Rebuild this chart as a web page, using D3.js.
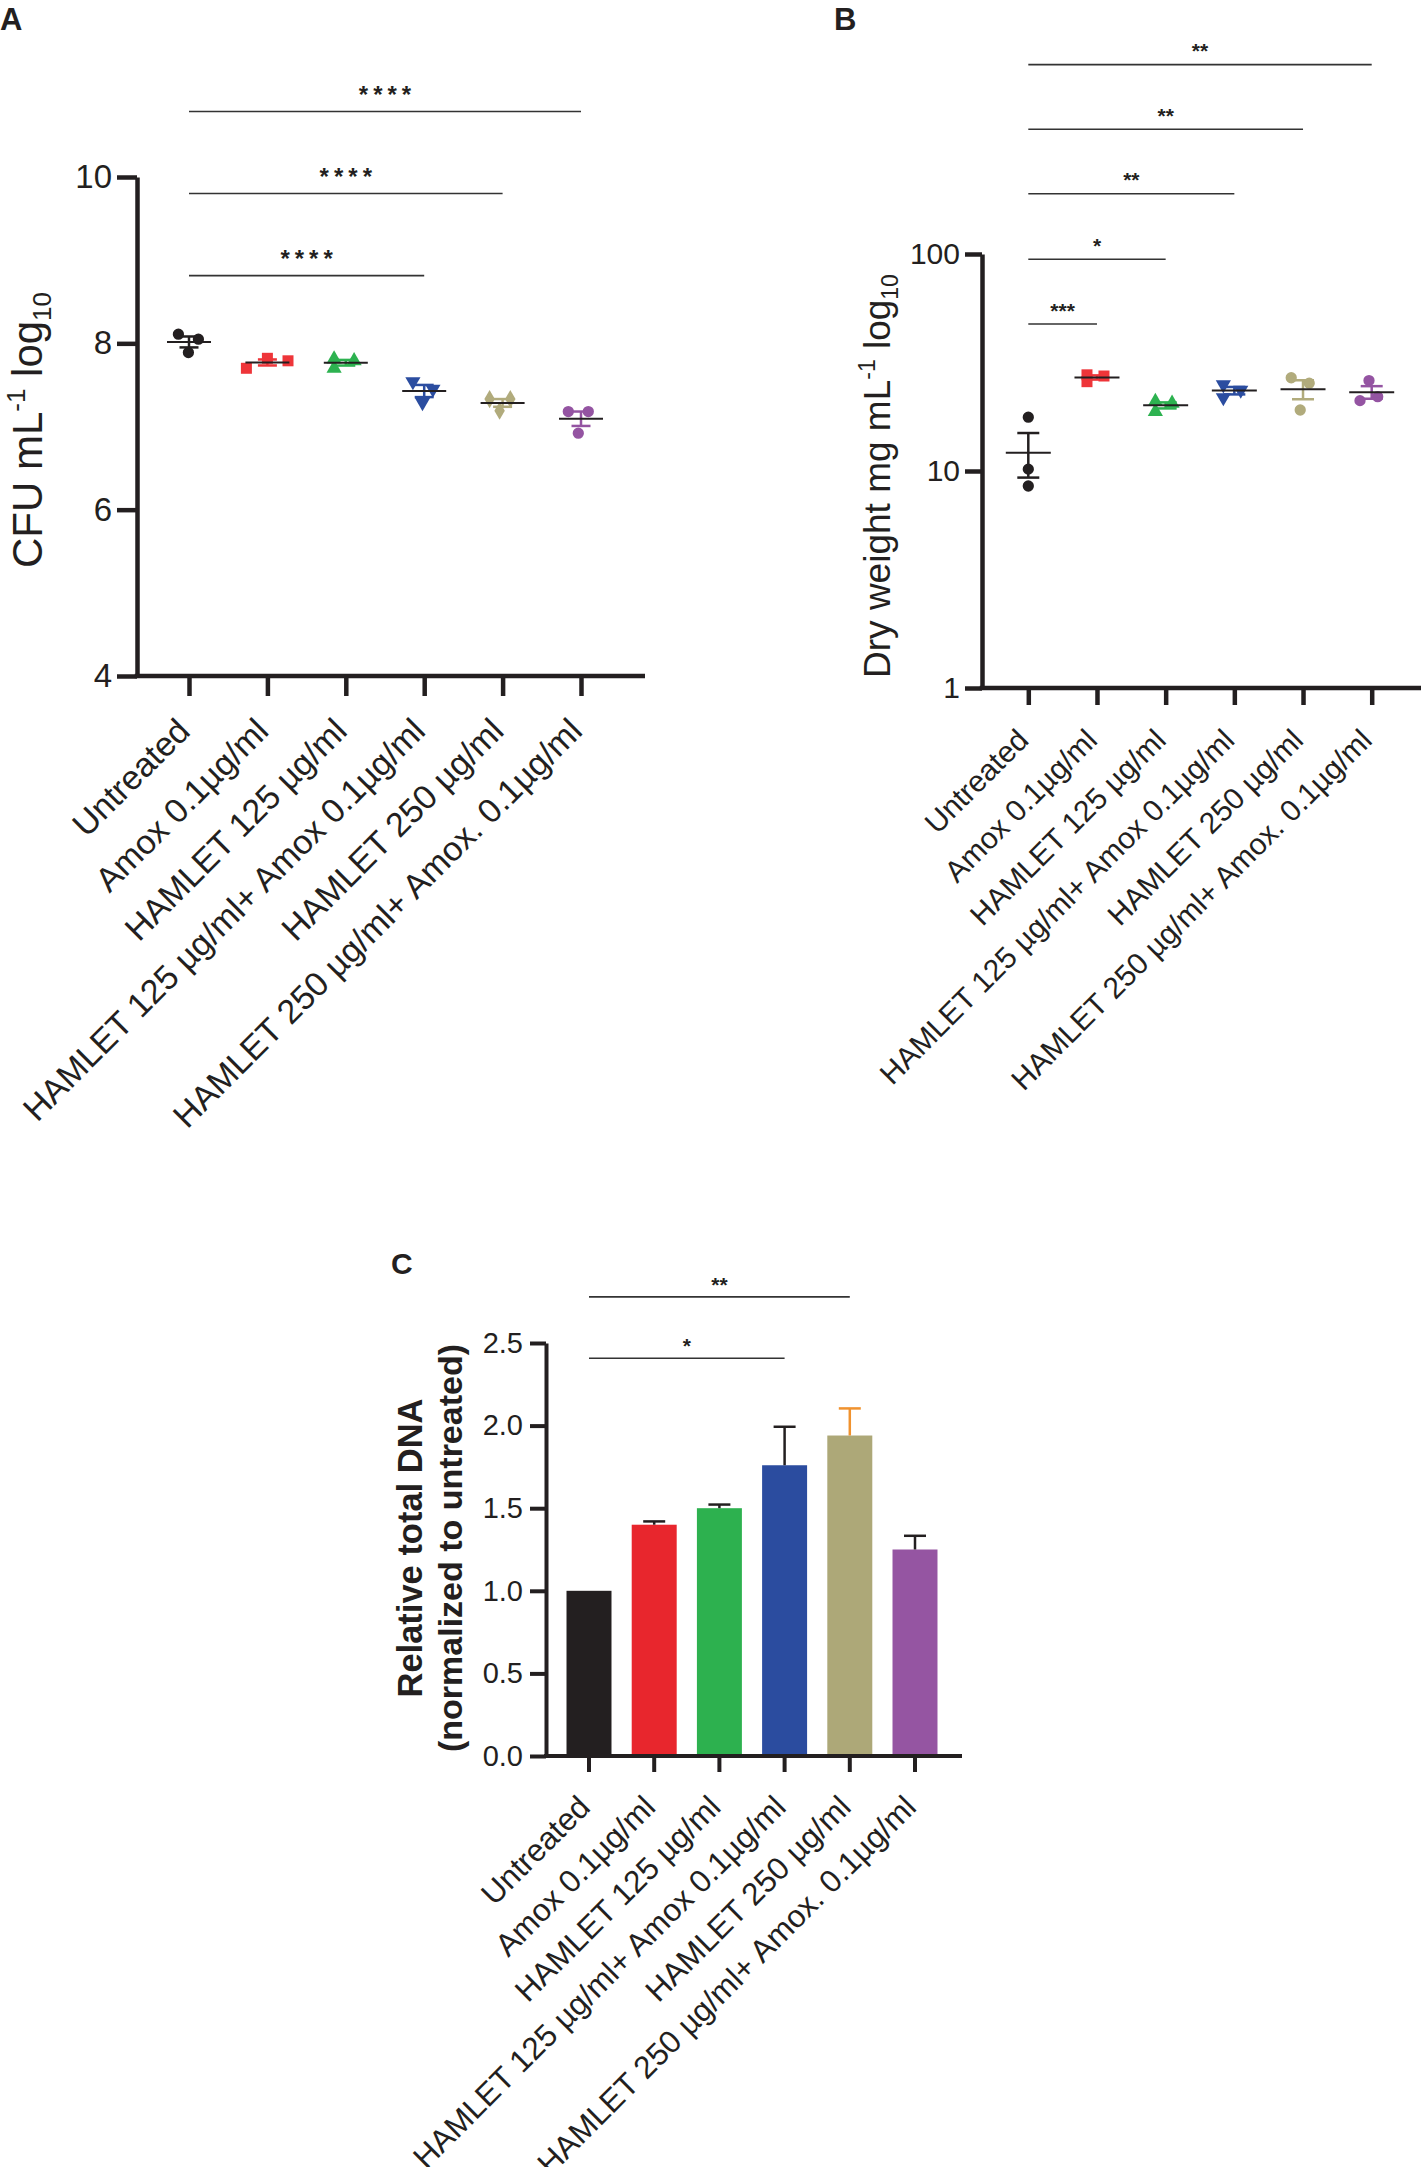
<!DOCTYPE html>
<html><head><meta charset="utf-8">
<script src="https://cdn.jsdelivr.net/npm/d3@7"></script>
<style>
body{margin:0;background:#fff}
svg{display:block}
text{font-family:"Liberation Sans",Arial,sans-serif;fill:#231F20}
</style>
</head><body>
<svg id="c" width="1421" height="2167"></svg>
<script>
// ---------------- DATA ----------------
const categories = ["Untreated","Amox 0.1µg/ml","HAMLET 125 µg/ml","HAMLET 125 µg/ml+ Amox 0.1µg/ml","HAMLET 250 µg/ml","HAMLET 250 µg/ml+ Amox. 0.1µg/ml"];
// Panel A: CFU mL-1 log10, three replicates per group
const cfuLog10 = [[8.11,8.05,7.89],[7.70,7.82,7.79],[7.81,7.79,7.70],[7.54,7.45,7.29],[7.33,7.33,7.19],[7.18,7.18,6.92]];
// Panel B: Dry weight mg mL-1, three replicates per group
const dryWeight = [[17.7,10.2,8.53],[27.75,25.8,27.4],[20.9,20.5,18.8],[25.0,23.6,21.8],[26.9,25.4,19.1],[26.1,21.1,22.0]];
// Panel C: relative total DNA, mean and upper error
const dnaMean = [1.0,1.40,1.50,1.76,1.94,1.25];
const dnaErr = [0,0.02,0.022,0.233,0.164,0.083];
const ticksA = [4,6,8,10];
const ticksB = [1,10,100];
const ticksC = [0,0.5,1.0,1.5,2.0,2.5];
const sigA = [{from:0,to:3,label:"****"},{from:0,to:4,label:"****"},{from:0,to:5,label:"****"}];
const sigB = [{from:0,to:1,label:"***"},{from:0,to:2,label:"*"},{from:0,to:3,label:"**"},{from:0,to:4,label:"**"},{from:0,to:5,label:"**"}];
const sigC = [{from:0,to:3,label:"*"},{from:0,to:4,label:"**"}];

// ---------------- STYLE / LAYOUT ----------------
const dotColors = ["#231F20","#EE3539","#2DB250","#2B4DA0","#B1AB7C","#9454A2"];
const barColors = ["#231F20","#E8262D","#2DB14F","#2B4C9F","#ADA878","#9555A2"];
const errColors = ["#231F20","#231F20","#231F20","#231F20","#F0922E","#231F20"];
const shapesA = ["circle","square","tri","triDown","diamond","circle"];
const shapesB = ["circle","square","tri","triDown","circle","circle"];
const jitA = [[-10.6,9.4,-0.6],[-21,0,20.6],[-11.7,8.3,-11.7],[-11.3,8.7,-1.7],[-13,7.7,-3],[-12.7,7.3,-2.7]];
const jitB = [[0,0,0],[-10,-10,7],[-10.3,6.4,-10.3],[-11,6.4,-11],[-11.8,6.2,-2.8],[-2.7,-11.7,6]];
const sigYA = [275.6,193.5,111.5];
const sigYB = [324,259.3,193.8,129.2,64.6];
const sigYC = [1358.3,1296.9];

const svg = d3.select("#c");
svg.append("rect").attr("width",1421).attr("height",2167).attr("fill","#fff");

function symPath(shape){
  const map = {circle:[d3.symbolCircle,100],square:[d3.symbolSquare,121],tri:[d3.symbolTriangle,100],triDown:[d3.symbolTriangle,100],diamond:[d3.symbolDiamond,95]};
  const [t,s] = map[shape];
  return d3.symbol(t,s)();
}

function styleAxis(g, sw, fs){
  g.select(".domain").attr("stroke","#231F20").attr("stroke-width",sw);
  g.selectAll(".tick line").attr("stroke","#231F20").attr("stroke-width",sw);
  g.selectAll(".tick text").attr("font-size",fs).attr("fill","#231F20").attr("font-family",'"Liberation Sans",Arial,sans-serif');
}

function scatterPanel(o){
  const g = svg.append("g");
  const ya = g.append("g").attr("transform",`translate(${o.axisX},0)`)
    .call(d3.axisLeft(o.y).tickValues(o.ticks).tickFormat(o.fmt).tickSize(o.tickLen).tickSizeOuter(0).tickPadding(o.pad));
  styleAxis(ya, o.sw, o.tickFont);
  const xa = g.append("g").attr("transform",`translate(0,${o.baseY})`)
    .call(d3.axisBottom(o.x).tickSize(o.tickLen).tickFormat(""));
  xa.select(".domain").remove();
  styleAxis(xa, o.sw, o.tickFont);
  g.append("line").attr("x1",o.axisX-o.sw/2).attr("x2",o.xEnd).attr("y1",o.baseY).attr("y2",o.baseY)
    .attr("stroke","#231F20").attr("stroke-width",o.sw);
  g.selectAll("text.cat").data(categories).join("text").attr("class","cat")
    .attr("transform",d=>`translate(${o.x(d)+o.labDx},${o.baseY+o.labDy}) rotate(-45)`)
    .attr("text-anchor","end").attr("font-size",o.labFont).text(d=>d);
  o.data.forEach((vals,i)=>{
    const cx = o.x(categories[i]);
    vals.forEach((v,j)=>{
      const sh = o.shapes[i];
      g.append("path").attr("d",symPath(sh))
        .attr("transform",`translate(${cx+o.jit[i][j]},${o.y(v)})${sh==="triDown"?" rotate(180)":""}`)
        .attr("fill",o.colors[i]);
    });
    const m = d3.mean(vals), sem = d3.deviation(vals)/Math.sqrt(vals.length);
    const ec = o.colors[i];
    g.append("line").attr("x1",cx).attr("x2",cx).attr("y1",o.y(m+sem)).attr("y2",o.y(m-sem)).attr("stroke",ec).attr("stroke-width",o.ebW);
    [m+sem,m-sem].forEach(v=>g.append("line").attr("x1",cx-o.capW/2).attr("x2",cx+o.capW/2).attr("y1",o.y(v)).attr("y2",o.y(v)).attr("stroke",ec).attr("stroke-width",o.ebW));
    g.append("line").attr("x1",cx-o.meanW/2).attr("x2",cx+o.meanW/2).attr("y1",o.y(m)).attr("y2",o.y(m)).attr("stroke","#231F20").attr("stroke-width",2);
  });
  o.sig.forEach((s,k)=>{
    const x1=o.x(categories[s.from]), x2=o.x(categories[s.to]), yy=o.sigY[k];
    g.append("line").attr("x1",x1).attr("x2",x2).attr("y1",yy).attr("y2",yy).attr("stroke","#333").attr("stroke-width",1.6);
    g.append("text").attr("x",(x1+x2)/2+o.starDx).attr("y",yy-o.starGap).attr("text-anchor","middle")
      .attr("font-size",o.starFont).attr("font-weight","bold").attr("letter-spacing",o.starLS).text(s.label);
  });
  return g;
}

// ---------------- PANEL A ----------------
const yA = d3.scaleLinear().domain([4,10]).range([676,177]);
const xA = d3.scalePoint().domain(categories).range([189,581]);
scatterPanel({y:yA,x:xA,ticks:ticksA,fmt:d3.format("d"),axisX:137,baseY:676,xEnd:645,sw:4.5,tickLen:20,pad:5,tickFont:33,
  labDx:3,labDy:57,labFont:34,data:cfuLog10,shapes:shapesA,colors:dotColors,jit:jitA,ebW:2.5,capW:19,meanW:44,
  sig:sigA,sigY:sigYA,starDx:2.5,starGap:9,starFont:24,starLS:5});
svg.append("text").attr("x",0).attr("y",30).attr("font-size",31).attr("font-weight","bold").text("A");
const tA = svg.append("text").attr("transform","translate(42,430) rotate(-90)").attr("text-anchor","middle").attr("font-size",42);
tA.append("tspan").text("CFU mL");
tA.append("tspan").attr("font-size",26).attr("dy",-17).text("-1");
tA.append("tspan").attr("dy",17).text(" log");
tA.append("tspan").attr("font-size",26).attr("dy",9).text("10");

// ---------------- PANEL B ----------------
const yB = d3.scaleLog().domain([1,100]).range([688,254]);
const xB = d3.scalePoint().domain(categories).range([1028.3,1371.7]);
scatterPanel({y:yB,x:xB,ticks:ticksB,fmt:d3.format("d"),axisX:982,baseY:688,xEnd:1421,sw:4.5,tickLen:17,pad:5,tickFont:30,
  labDx:2,labDy:54,labFont:30,data:dryWeight,shapes:shapesB,colors:dotColors,jit:jitB,ebW:2.5,capW:22,meanW:45,
  sig:sigB,sigY:sigYB,starDx:0,starGap:6.5,starFont:21,starLS:0});
svg.append("text").attr("x",834).attr("y",30).attr("font-size",31).attr("font-weight","bold").text("B");
const tB = svg.append("text").attr("transform","translate(890,476) rotate(-90)").attr("text-anchor","middle").attr("font-size",37);
tB.append("tspan").text("Dry weight mg mL");
tB.append("tspan").attr("font-size",23).attr("dy",-15).text("-1");
tB.append("tspan").attr("dy",15).text(" log");
tB.append("tspan").attr("font-size",23).attr("dy",8).text("10");

// ---------------- PANEL C ----------------
const yC = d3.scaleLinear().domain([0,2.5]).range([1756,1343]);
const xC = d3.scaleBand().domain(categories).range([556.4,947.6]).paddingInner(0.31).paddingOuter(0.155);
const gC = svg.append("g");
const yaC = gC.append("g").attr("transform","translate(546,0)")
  .call(d3.axisLeft(yC).tickValues(ticksC).tickFormat(d3.format(".1f")).tickSize(16).tickSizeOuter(0).tickPadding(7));
styleAxis(yaC,4,29);
gC.selectAll("rect.bar").data(dnaMean).join("rect").attr("class","bar")
  .attr("x",(d,i)=>xC(categories[i])).attr("width",xC.bandwidth())
  .attr("y",d=>yC(d)).attr("height",d=>yC(0)-yC(d)).attr("fill",(d,i)=>barColors[i]);
dnaMean.forEach((m,i)=>{
  if(!dnaErr[i]) return;
  const cx = xC(categories[i])+xC.bandwidth()/2;
  gC.append("line").attr("x1",cx).attr("x2",cx).attr("y1",yC(m)).attr("y2",yC(m+dnaErr[i])).attr("stroke",errColors[i]).attr("stroke-width",2.5);
  gC.append("line").attr("x1",cx-11).attr("x2",cx+11).attr("y1",yC(m+dnaErr[i])).attr("y2",yC(m+dnaErr[i])).attr("stroke",errColors[i]).attr("stroke-width",2.5);
});
const xaC = gC.append("g").attr("transform","translate(0,1756)")
  .call(d3.axisBottom(xC).tickSize(16).tickFormat(""));
xaC.select(".domain").remove();
styleAxis(xaC,4,29);
gC.append("line").attr("x1",544).attr("x2",962).attr("y1",1756).attr("y2",1756).attr("stroke","#231F20").attr("stroke-width",4);
gC.selectAll("text.cat").data(categories).join("text").attr("class","cat")
  .attr("transform",d=>`translate(${xC(d)+xC.bandwidth()/2+3},${1756+53}) rotate(-45)`)
  .attr("text-anchor","end").attr("font-size",31.5).text(d=>d);
sigC.forEach((s,k)=>{
  const x1=xC(categories[s.from])+xC.bandwidth()/2, x2=xC(categories[s.to])+xC.bandwidth()/2, yy=sigYC[k];
  gC.append("line").attr("x1",x1).attr("x2",x2).attr("y1",yy).attr("y2",yy).attr("stroke","#333").attr("stroke-width",1.6);
  gC.append("text").attr("x",(x1+x2)/2).attr("y",yy-5).attr("text-anchor","middle").attr("font-size",21).attr("font-weight","bold").text(s.label);
});
svg.append("text").attr("x",391).attr("y",1274).attr("font-size",30).attr("font-weight","bold").text("C");
svg.append("text").attr("transform","translate(422,1548) rotate(-90)").attr("text-anchor","middle").attr("font-size",34.5).attr("font-weight","bold").text("Relative total DNA");
svg.append("text").attr("transform","translate(461.5,1548) rotate(-90)").attr("text-anchor","middle").attr("font-size",34).attr("font-weight","bold").text("(normalized to untreated)");
</script>
</body></html>
